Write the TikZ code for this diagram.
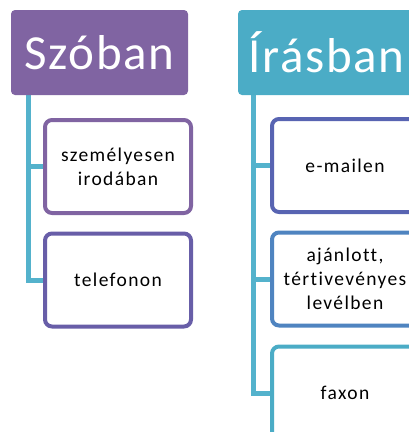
\documentclass[tikz,border=0pt]{standalone}
\usepackage{fontspec}
\setmainfont{Carlito}[Ligatures=NoCommon]
\newfontfamily\headfont{Carlito}[LetterSpace=3.5]
\newfontfamily\itemfont{Carlito}[Ligatures=NoCommon,LetterSpace=7]
\usetikzlibrary{positioning,backgrounds}
\definecolor{szPurple}{RGB}{128,100,162}
\definecolor{irCyan}{RGB}{75,172,198}
\definecolor{linkCyan}{RGB}{84,178,204}
\definecolor{telViolet}{RGB}{104,94,168}
\definecolor{mailBlue}{RGB}{88,100,178}
\definecolor{postBlue}{RGB}{79,132,192}

\begin{document}
\begin{tikzpicture}[x=1pt,y=-1pt,
  headbox/.style={rounded corners=4pt, minimum width=177pt, minimum height=85pt, inner sep=0pt,
    text=white, font=\headfont\fontsize{49}{52}\selectfont},
  itembox/.style={draw, line width=4pt, rounded corners=7pt, fill=white, minimum width=146pt,
    minimum height=93pt, inner sep=0pt, align=center, text=black,
    font=\itemfont\fontsize{19.5}{24}\selectfont},
  link/.style={draw=linkCyan, line width=5pt}]
\useasboundingbox (0,0) rectangle (409,432);
\clip (0,0) rectangle (409,432);
% headings
\node[headbox, fill=szPurple] (szoban) at (99.5,52.5) {Szóban};
\node[headbox, fill=irCyan] (irasban) at (326.5,52.5) {Írásban};
\coordinate (szLine) at (28,95);
\coordinate (irLine) at (253,95);
% items
\node[itembox, draw=szPurple] (szemelyes) at (118,166.5) {személyesen\\irodában};
\node[itembox, draw=telViolet] (telefon) at (118,280) {telefonon};
\node[itembox, draw=mailBlue] (email) at (345,165.5) {e-mailen};
\node[itembox, draw=postBlue] (level) at (345,279) {ajánlott,\\tértivevényes\\levélben};
\node[itembox, draw=irCyan] (fax) at (345,393) {faxon};
% connectors
\begin{scope}[on background layer]
\foreach \b in {szemelyes,telefon}
{
\draw[link] (szLine) |- (\b.west);
}
\foreach \b in {email,level,fax}
{
\draw[link] (irLine) |- (\b.west);
}
\end{scope}
\end{tikzpicture}
\end{document}
